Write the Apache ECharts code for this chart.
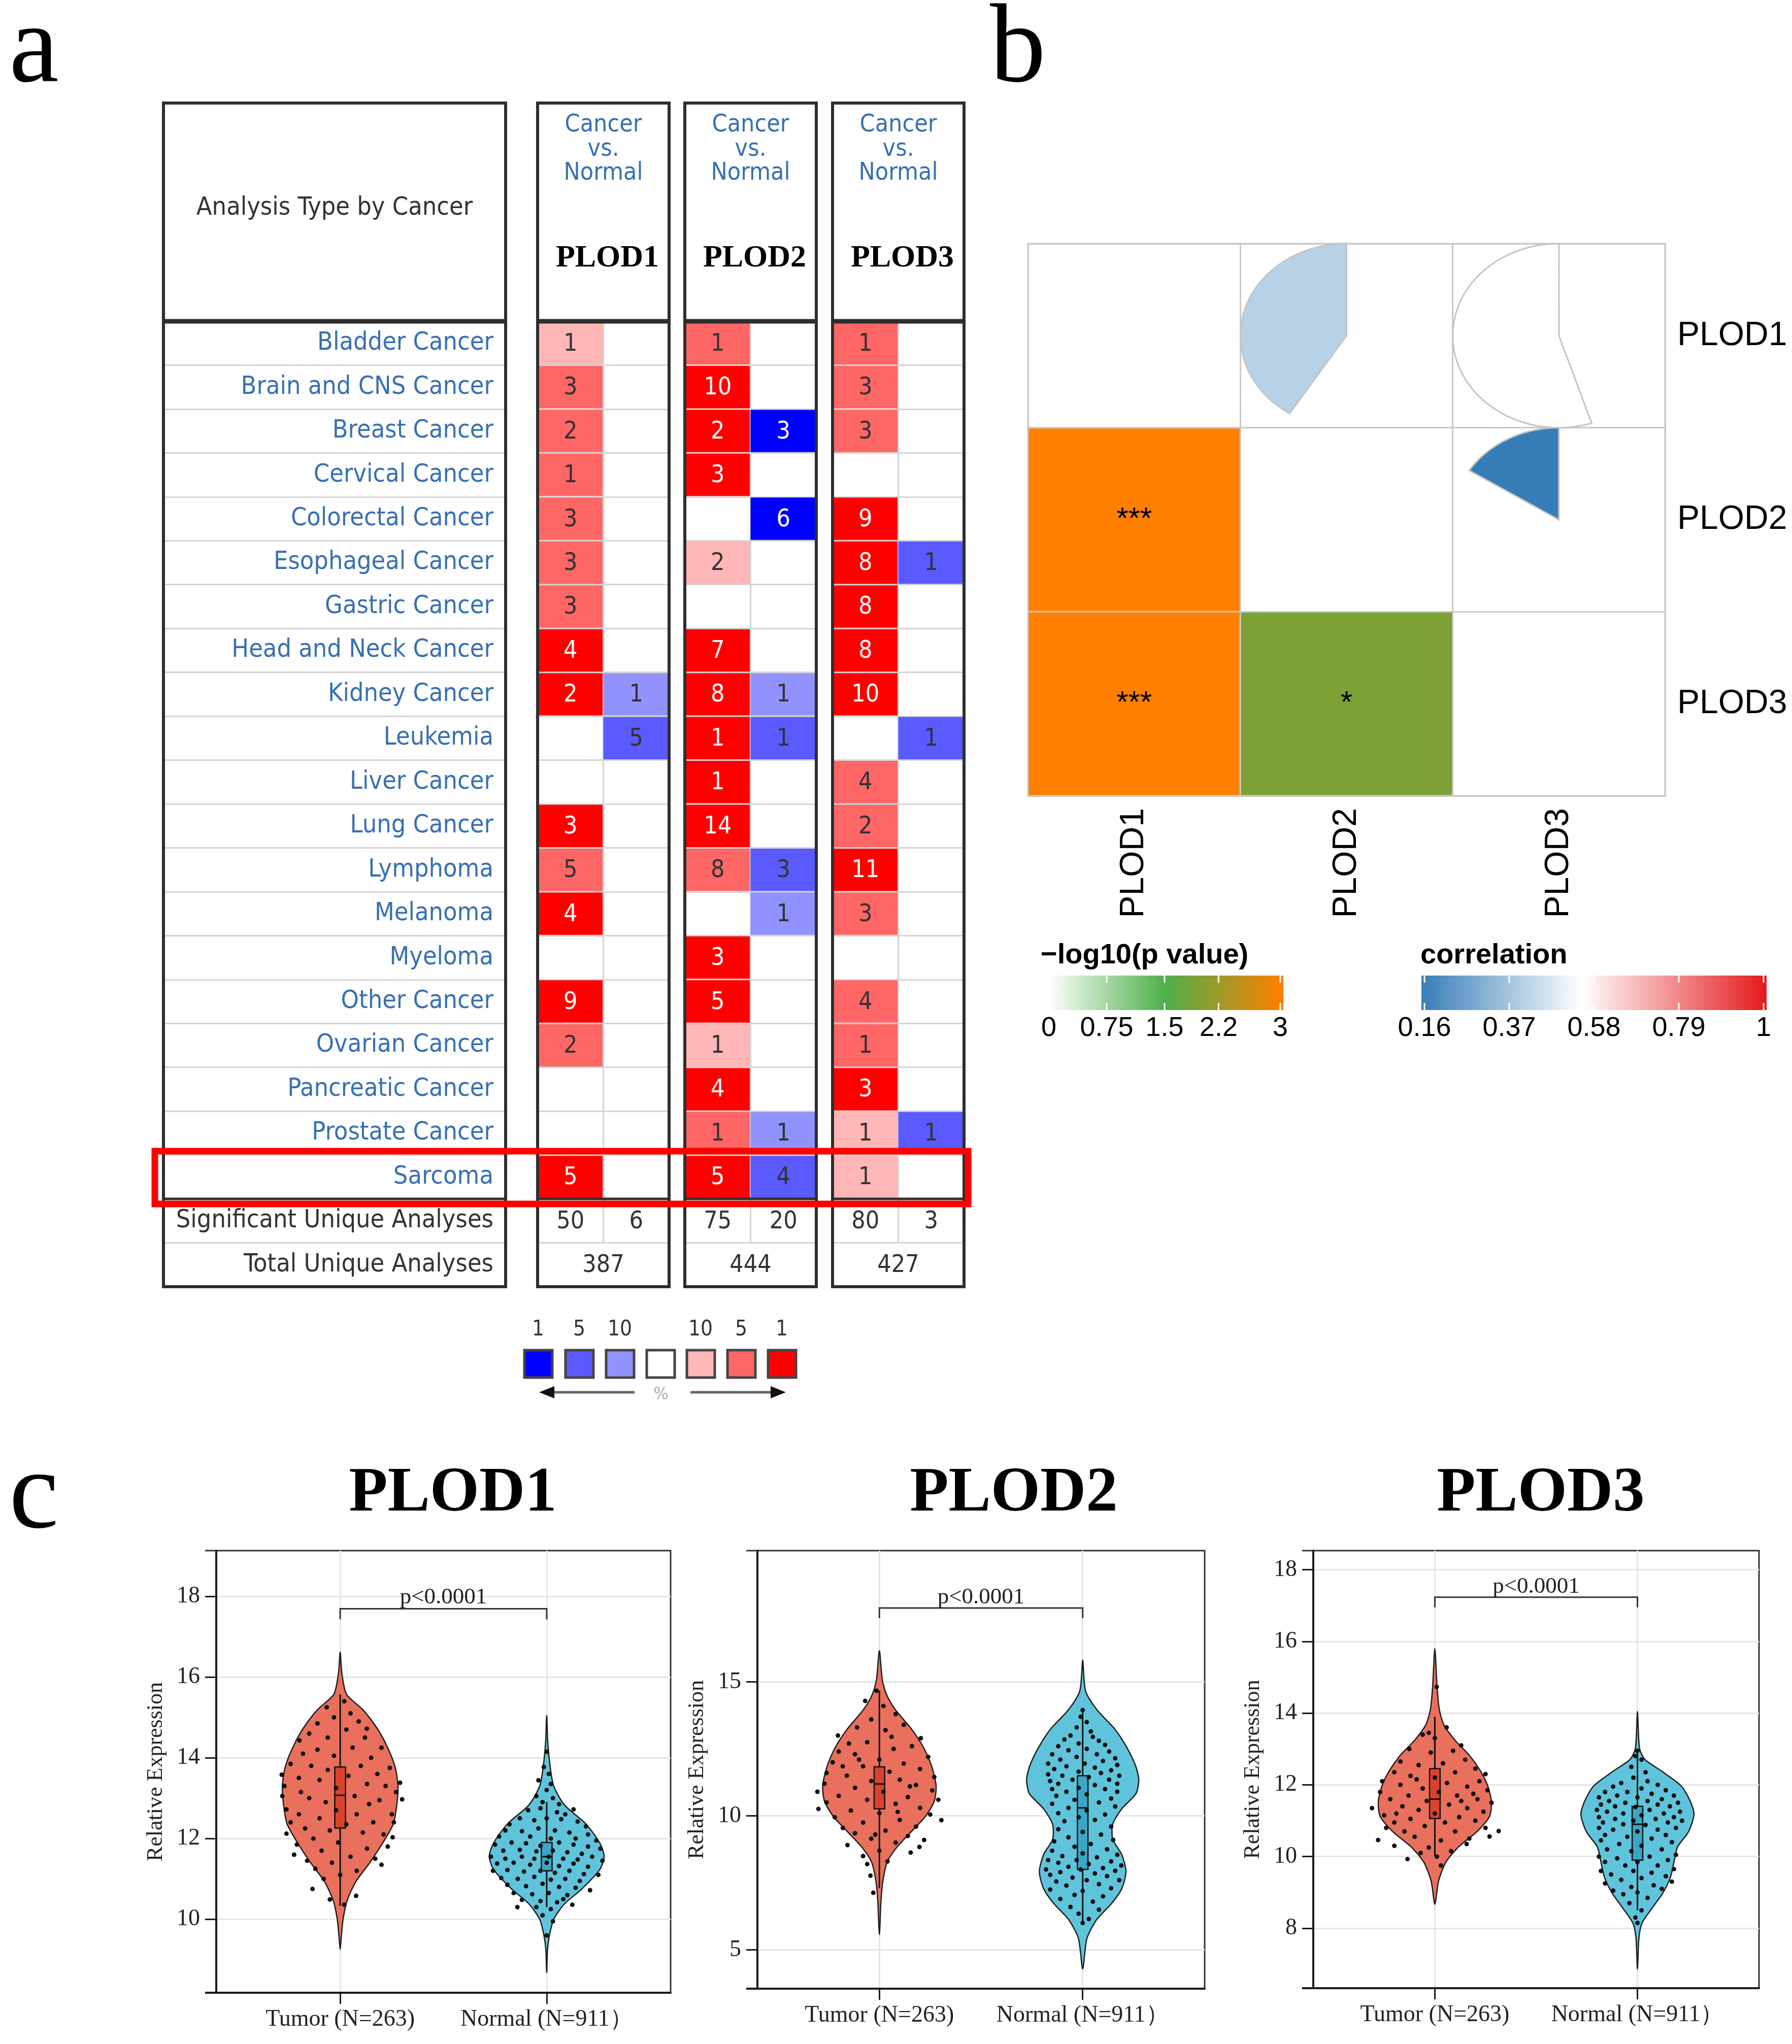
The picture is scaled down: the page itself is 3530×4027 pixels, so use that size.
<!DOCTYPE html>
<html>
<head>
<meta charset="utf-8">
<title>PLOD family expression</title>
<script src="https://cdn.jsdelivr.net/npm/echarts@6.0.0/dist/echarts.min.js"></script>
<style>
html, body { margin: 0; padding: 0; background: #fff; }
#main { width: 3530px; height: 4027px; }
</style>
</head>
<body>
<div id="main"></div>
<script>
// ---------- panel a : oncomine counts ----------
var cancerTypes = ['Bladder Cancer', 'Brain and CNS Cancer', 'Breast Cancer', 'Cervical Cancer', 'Colorectal Cancer',
    'Esophageal Cancer', 'Gastric Cancer', 'Head and Neck Cancer', 'Kidney Cancer', 'Leukemia', 'Liver Cancer',
    'Lung Cancer', 'Lymphoma', 'Melanoma', 'Myeloma', 'Other Cancer', 'Ovarian Cancer', 'Pancreatic Cancer',
    'Prostate Cancer', 'Sarcoma'];
var summaryRows = ['Significant Unique Analyses', 'Total Unique Analyses'];
var geneNames = ['PLOD1', 'PLOD2', 'PLOD3'];

var plod1UpCount = [1, 3, 2, 1, 3, 3, 3, 4, 2, 0, 0, 3, 5, 4, 0, 9, 2, 0, 0, 5];
var plod1UpRank = [10, 5, 5, 5, 5, 5, 5, 1, 1, 0, 0, 1, 5, 1, 0, 1, 5, 0, 0, 1];
var plod1DownCount = [0, 0, 0, 0, 0, 0, 0, 0, 1, 5, 0, 0, 0, 0, 0, 0, 0, 0, 0, 0];
var plod1DownRank = [0, 0, 0, 0, 0, 0, 0, 0, 10, 5, 0, 0, 0, 0, 0, 0, 0, 0, 0, 0];

var plod2UpCount = [1, 10, 2, 3, 0, 2, 0, 7, 8, 1, 1, 14, 8, 0, 3, 5, 1, 4, 1, 5];
var plod2UpRank = [5, 1, 1, 1, 0, 10, 0, 1, 1, 1, 1, 1, 5, 0, 1, 1, 10, 1, 5, 1];
var plod2DownCount = [0, 0, 3, 0, 6, 0, 0, 0, 1, 1, 0, 0, 3, 1, 0, 0, 0, 0, 1, 4];
var plod2DownRank = [0, 0, 1, 0, 1, 0, 0, 0, 10, 5, 0, 0, 5, 10, 0, 0, 0, 0, 10, 5];

var plod3UpCount = [1, 3, 3, 0, 9, 8, 8, 8, 10, 0, 4, 2, 11, 3, 0, 4, 1, 3, 1, 1];
var plod3UpRank = [5, 5, 5, 0, 1, 1, 1, 1, 1, 0, 5, 5, 1, 5, 0, 5, 5, 1, 10, 10];
var plod3DownCount = [0, 0, 0, 0, 0, 1, 0, 0, 0, 1, 0, 0, 0, 0, 0, 0, 0, 0, 1, 0];
var plod3DownRank = [0, 0, 0, 0, 0, 5, 0, 0, 0, 5, 0, 0, 0, 0, 0, 0, 0, 0, 5, 0];

var sigUp = [50, 75, 80];
var sigDown = [6, 20, 3];
var totalAnalyses = [387, 444, 427];
var legendRanks = ['1', '5', '10', '', '10', '5', '1'];

// ---------- panel b : correlation ----------
var corrGenes = ['PLOD1', 'PLOD2', 'PLOD3'];
var corrUpper = [[0, 1, 0.41], [0, 2, 0.55], [1, 2, 0.16]];      // row, col, r
var pLower = [[1, 0, 3], [2, 0, 3], [2, 1, 1.9]];                 // row, col, -log10(p)
var pStars = ['***', '***', '*'];
var pTicks = [0, 0.75, 1.5, 2.2, 3];
var corrTicks = [0.16, 0.37, 0.58, 0.79, 1];

// ---------- panel c : violins ----------
var groupLabels = ['Tumor (N=263)', 'Normal (N=911\uff09'];
var plod1Ticks = [10, 12, 14, 16, 18];
var plod2Ticks = [5, 10, 15];
var plod3Ticks = [8, 10, 12, 14, 16, 18];
var pLabel = 'p<0.0001';
var bracketY = [[17.69, 17.43, 17.97], [17.76, 17.38, 18.16], [17.23, 16.95, 17.52]];

// [y, half width]
var plod1TumorShape = [[9.25, 0], [9.6, 0.006], [10.0, 0.014], [10.47, 0.034], [10.94, 0.077], [11.42, 0.146], [11.89, 0.206],
    [12.36, 0.257], [12.83, 0.274], [13.3, 0.28], [13.77, 0.266], [14.25, 0.23], [14.72, 0.18], [15.19, 0.11], [15.57, 0.031],
    [16.1, 0.008], [16.62, 0]];
var plod1NormalShape = [[8.68, 0], [9.25, 0.004], [9.62, 0.014], [10.0, 0.034], [10.38, 0.086], [10.75, 0.17], [11.23, 0.257],
    [11.56, 0.278], [11.89, 0.257], [12.36, 0.19], [12.83, 0.086], [13.3, 0.034], [13.77, 0.017], [14.4, 0.005], [15.05, 0]];
var plod2TumorShape = [[5.57, 0], [6.85, 0.008], [7.56, 0.017], [8.27, 0.038], [8.84, 0.087], [9.41, 0.157], [9.98, 0.227],
    [10.55, 0.27], [11.12, 0.279], [11.83, 0.258], [12.54, 0.218], [13.25, 0.157], [13.96, 0.079], [14.53, 0.035],
    [15.1, 0.014], [16.17, 0]];
var plod2NormalShape = [[4.29, 0], [5.43, 0.021], [6.14, 0.07], [6.71, 0.14], [7.28, 0.192], [7.92, 0.213], [8.56, 0.192],
    [9.12, 0.148], [9.69, 0.148], [10.26, 0.192], [10.83, 0.262], [11.33, 0.276], [11.83, 0.262], [12.54, 0.218],
    [13.25, 0.157], [13.96, 0.07], [14.67, 0.014], [15.81, 0]];
var plod3TumorShape = [[8.67, 0], [9.31, 0.018], [9.84, 0.054], [10.27, 0.117], [10.69, 0.207], [11.12, 0.27], [11.54, 0.279],
    [11.97, 0.261], [12.39, 0.225], [12.82, 0.171], [13.24, 0.1], [13.67, 0.045], [14.1, 0.022], [14.73, 0.011], [15.8, 0]];
var plod3NormalShape = [[6.86, 0], [7.71, 0.007], [8.14, 0.022], [8.56, 0.072], [8.99, 0.126], [9.41, 0.162], [9.84, 0.18],
    [10.27, 0.198], [10.69, 0.252], [11.17, 0.279], [11.54, 0.261], [11.97, 0.216], [12.39, 0.117], [12.71, 0.036],
    [13.03, 0.01], [14.04, 0]];

// [low, q1, median, q3, high]
var plod1TumorBox = [10.33, 12.26, 13.07, 13.77, 15.57];
var plod1NormalBox = [10.3, 11.2, 11.55, 11.9, 12.9];
var plod2TumorBox = [7.3, 10.26, 11.19, 11.83, 14.67];
var plod2NormalBox = [6.0, 8.0, 10.3, 11.5, 13.9];
var plod3TumorBox = [10.0, 11.06, 11.6, 12.45, 13.9];
var plod3NormalBox = [8.5, 9.9, 10.9, 11.4, 12.9];

// [offset from group centre, expression]
var plod1TumorDots = [[-0.283, 13.58], [-0.27, 13.3], [-0.28, 13.05], [-0.26, 12.72], [-0.26, 12.12], [-0.24, 12.4], [-0.223, 11.6],
    [-0.21, 11.85], [-0.24, 13.85], [-0.197, 14.43], [-0.18, 14.1], [-0.2, 13.5], [-0.19, 13.15], [-0.2, 12.6], [-0.17, 12.25],
    [-0.16, 11.45], [-0.15, 14.6], [-0.14, 13.8], [-0.15, 13.0], [-0.13, 12.0], [-0.134, 10.75], [-0.12, 11.25], [-0.11, 14.85],
    [-0.11, 14.2], [-0.1, 13.45], [-0.1, 12.5], [-0.09, 11.7], [-0.08, 11.0], [-0.065, 15.25], [-0.06, 14.5], [-0.06, 13.7],
    [-0.07, 12.9], [-0.05, 12.2], [-0.05, 10.49], [-0.04, 11.4], [-0.03, 14.05], [-0.02, 13.25], [-0.02, 12.7], [-0.01, 11.9],
    [0.0, 11.1], [0.02, 10.36], [0.02, 15.4], [0.03, 14.7], [0.04, 13.55], [0.03, 12.35], [0.05, 11.55], [0.06, 14.25],
    [0.07, 13.05], [0.08, 12.6], [0.077, 10.58], [0.08, 11.2], [0.09, 14.9], [0.1, 13.8], [0.11, 12.15], [0.12, 14.5],
    [0.13, 13.35], [0.13, 11.75], [0.14, 12.85], [0.129, 14.72], [0.15, 14.0], [0.16, 12.4], [0.17, 11.5], [0.18, 13.6],
    [0.19, 12.95], [0.2, 14.25], [0.21, 12.1], [0.22, 13.3], [0.23, 11.8], [0.24, 13.75], [0.25, 12.6], [0.254, 12.03],
    [0.27, 13.15], [0.29, 13.38], [0.3, 12.97], [0.26, 12.4], [0.2, 11.35], [-0.03, 15.0], [0.05, 15.1]];
var plod1NormalDots = [[0, 14.15], [-0.014, 13.77], [0.01, 13.6], [-0.04, 13.44], [0.02, 13.35], [0.0, 13.2], [-0.05, 13.05],
    [0.03, 13.0], [-0.02, 12.9], [0.06, 12.85], [0.13, 12.72], [-0.09, 12.7], [-0.03, 12.75], [0.05, 12.65], [0.09, 12.6],
    [-0.13, 12.5], [-0.06, 12.45], [0.0, 12.5], [0.07, 12.48], [0.15, 12.42], [-0.18, 12.35], [0.19, 12.3], [-0.2, 12.2],
    [-0.12, 12.18], [-0.04, 12.25], [0.04, 12.2], [0.11, 12.15], [0.2, 12.1], [-0.23, 12.05], [-0.08, 12.05], [0.02, 12.0],
    [0.14, 12.0], [0.24, 11.95], [-0.25, 11.85], [-0.17, 11.9], [-0.1, 11.88], [-0.03, 11.82], [0.06, 11.9], [0.13, 11.85],
    [0.2, 11.8], [0.26, 11.75], [-0.21, 11.7], [-0.13, 11.72], [-0.05, 11.68], [0.03, 11.7], [0.1, 11.66], [0.17, 11.62],
    [-0.27, 11.55], [-0.2, 11.5], [-0.12, 11.55], [-0.06, 11.5], [0.01, 11.55], [0.08, 11.5], [0.15, 11.48], [0.22, 11.55],
    [0.27, 11.45], [-0.24, 11.38], [-0.16, 11.4], [-0.08, 11.35], [0.0, 11.4], [0.06, 11.32], [0.13, 11.38], [0.2, 11.3],
    [-0.26, 11.2], [-0.19, 11.22], [-0.11, 11.18], [-0.03, 11.2], [0.04, 11.15], [0.11, 11.2], [0.18, 11.12], [0.25, 11.1],
    [-0.22, 11.02], [-0.14, 11.0], [-0.06, 11.05], [0.02, 10.98], [0.09, 11.0], [0.16, 10.95], [-0.19, 10.85], [-0.1, 10.82],
    [-0.02, 10.88], [0.06, 10.8], [0.14, 10.78], [0.21, 10.72], [-0.16, 10.65], [-0.07, 10.62], [0.01, 10.65], [0.1, 10.6],
    [-0.12, 10.48], [-0.03, 10.45], [0.05, 10.42], [-0.142, 10.3], [0.124, 10.36], [-0.05, 10.3], [0.02, 10.25],
    [-0.02, 10.1], [0.03, 9.95], [0.0, 9.6], [0.08, 10.5]];
var plod2TumorDots = [[-0.014, 14.67], [-0.07, 14.29], [0.02, 14.1], [0.08, 13.8], [-0.04, 13.6], [0.12, 13.4], [-0.11, 13.3],
    [0.03, 13.2], [-0.204, 13.0], [0.204, 12.9], [-0.15, 12.7], [0.16, 12.6], [-0.06, 12.75], [0.07, 12.5], [-0.2, 12.4],
    [0.24, 12.2], [-0.12, 12.3], [0.0, 12.1], [-0.23, 12.0], [0.12, 11.95], [-0.08, 11.85], [0.2, 11.75], [-0.26, 11.6],
    [0.05, 11.65], [-0.16, 11.5], [0.27, 11.45], [0.1, 11.35], [-0.04, 11.3], [-0.27, 11.2], [0.18, 11.15], [-0.12, 11.05],
    [0.26, 10.95], [-0.305, 10.9], [0.02, 10.9], [-0.2, 10.75], [0.14, 10.7], [-0.06, 10.6], [0.29, 10.6], [-0.26, 10.5],
    [0.08, 10.45], [-0.3, 10.26], [0.2, 10.3], [-0.14, 10.2], [0.0, 10.1], [0.25, 10.05], [-0.22, 9.95], [0.305, 9.84],
    [0.1, 9.85], [-0.08, 9.75], [0.18, 9.6], [-0.18, 9.55], [0.03, 9.45], [-0.12, 9.35], [0.14, 9.25], [-0.04, 9.15],
    [0.22, 9.1], [0.08, 9.0], [-0.157, 8.91], [0.197, 8.84], [0.154, 8.63], [0.0, 8.7], [-0.08, 8.5], [0.04, 8.3],
    [-0.06, 8.2], [-0.044, 7.77], [-0.03, 7.13], [0.06, 12.95], [-0.1, 12.1], [0.15, 11.1], [-0.18, 11.85], [0.09, 10.15],
    [-0.02, 9.3]];
var plod2NormalDots = [[0.0, 13.95], [-0.01, 13.7], [0.02, 13.5], [-0.03, 13.3], [0.04, 13.15], [-0.06, 13.0], [0.05, 12.95],
    [-0.09, 12.85], [0.08, 12.8], [-0.02, 12.7], [0.11, 12.65], [-0.12, 12.6], [0.02, 12.5], [-0.07, 12.45], [0.13, 12.4],
    [-0.15, 12.3], [0.07, 12.3], [-0.03, 12.2], [0.16, 12.15], [-0.11, 12.1], [0.1, 12.05], [-0.17, 11.95], [0.01, 11.95],
    [0.17, 11.9], [-0.08, 11.85], [0.06, 11.8], [-0.14, 11.75], [0.14, 11.7], [-0.02, 11.65], [-0.17, 11.55], [0.09, 11.6],
    [0.18, 11.5], [-0.1, 11.5], [0.03, 11.45], [-0.05, 11.35], [0.13, 11.35], [-0.16, 11.3], [0.17, 11.2], [-0.12, 11.2],
    [0.06, 11.15], [-0.02, 11.05], [-0.15, 11.0], [0.11, 11.0], [0.17, 10.9], [-0.08, 10.9], [0.02, 10.8], [-0.13, 10.75],
    [0.14, 10.65], [-0.04, 10.6], [0.08, 10.5], [-0.15, 10.45], [0.16, 10.35], [-0.07, 10.3], [0.02, 10.2], [-0.12, 10.1],
    [0.11, 10.05], [-0.02, 9.95], [0.06, 9.85], [-0.09, 9.8], [0.14, 9.6], [-0.12, 9.5], [0.0, 9.4], [0.09, 9.3],
    [-0.07, 9.2], [0.15, 9.1], [-0.14, 9.05], [0.04, 8.95], [-0.04, 8.85], [0.12, 8.75], [-0.15, 8.7], [0.0, 8.6],
    [0.17, 8.55], [-0.1, 8.5], [0.07, 8.45], [-0.17, 8.35], [-0.03, 8.35], [0.14, 8.3], [-0.12, 8.25], [0.03, 8.2],
    [0.19, 8.15], [-0.07, 8.1], [0.1, 8.05], [-0.18, 8.0], [-0.01, 8.0], [0.16, 7.95], [-0.11, 7.9], [0.06, 7.85],
    [-0.16, 7.8], [0.12, 7.75], [-0.05, 7.7], [0.02, 7.6], [0.18, 7.6], [-0.13, 7.55], [0.08, 7.45], [-0.08, 7.4],
    [0.14, 7.3], [-0.16, 7.25], [0.0, 7.2], [-0.04, 7.05], [0.1, 7.0], [-0.11, 6.9], [0.05, 6.8], [-0.06, 6.6],
    [0.08, 6.5], [-0.02, 6.35], [0.03, 6.15], [0.0, 6.0]];
var plod3TumorDots = [[0.009, 14.73], [0.058, 13.6], [-0.06, 13.4], [-0.03, 13.45], [0.0, 13.3], [0.13, 13.1], [-0.126, 13.0],
    [0.09, 12.95], [-0.02, 12.9], [0.15, 12.7], [-0.17, 12.65], [0.04, 12.6], [-0.08, 12.55], [0.2, 12.45], [0.25, 12.3],
    [-0.2, 12.35], [0.1, 12.35], [-0.12, 12.25], [0.0, 12.2], [-0.26, 12.1], [0.22, 12.1], [0.06, 12.05], [-0.17, 12.0],
    [0.16, 11.95], [-0.06, 11.9], [0.26, 11.85], [-0.27, 11.8], [0.02, 11.8], [0.11, 11.7], [-0.13, 11.7], [-0.22, 11.6],
    [0.21, 11.6], [-0.04, 11.55], [0.28, 11.5], [0.07, 11.45], [-0.31, 11.35], [-0.16, 11.4], [0.16, 11.35], [-0.08, 11.3],
    [0.24, 11.25], [0.0, 11.2], [-0.25, 11.15], [0.12, 11.1], [-0.12, 11.05], [0.2, 11.0], [-0.2, 10.95], [0.05, 10.95],
    [-0.05, 10.85], [0.25, 10.8], [-0.24, 10.8], [0.315, 10.71], [0.1, 10.7], [-0.15, 10.7], [0.27, 10.56], [-0.1, 10.55],
    [0.17, 10.5], [-0.28, 10.46], [0.03, 10.45], [0.157, 10.35], [-0.2, 10.3], [-0.03, 10.25], [0.08, 10.15],
    [-0.135, 9.93], [0.01, 10.0], [0.03, 9.75], [-0.07, 10.1], [0.19, 11.75], [-0.09, 12.15], [0.13, 11.55], [-0.19, 11.2]];
var plod3NormalDots = [[0.0, 12.95], [-0.01, 12.8], [0.02, 12.7], [-0.03, 12.5], [0.04, 12.35], [-0.02, 12.2], [0.05, 12.1],
    [-0.08, 12.05], [0.1, 12.0], [-0.12, 11.95], [0.02, 11.9], [0.14, 11.85], [-0.16, 11.8], [-0.05, 11.8], [0.07, 11.75],
    [0.18, 11.7], [-0.19, 11.65], [-0.1, 11.7], [0.0, 11.65], [0.12, 11.6], [-0.14, 11.55], [0.05, 11.55], [0.2, 11.5],
    [-0.06, 11.5], [-0.18, 11.45], [0.1, 11.45], [0.16, 11.4], [-0.11, 11.4], [-0.01, 11.38], [-0.2, 11.3], [0.06, 11.3],
    [0.21, 11.25], [-0.15, 11.25], [0.13, 11.2], [-0.07, 11.2], [0.02, 11.15], [-0.19, 11.1], [0.18, 11.1], [-0.11, 11.05],
    [0.09, 11.05], [-0.02, 11.0], [0.22, 11.0], [-0.17, 10.95], [0.15, 10.95], [-0.07, 10.9], [0.04, 10.88], [-0.19, 10.8],
    [0.19, 10.8], [0.1, 10.75], [-0.12, 10.75], [0.0, 10.7], [-0.16, 10.6], [0.14, 10.6], [-0.05, 10.55], [0.07, 10.5],
    [-0.18, 10.45], [0.17, 10.4], [-0.09, 10.35], [0.02, 10.3], [-0.15, 10.2], [0.12, 10.2], [-0.03, 10.15], [0.19, 10.05],
    [-0.19, 10.0], [0.06, 10.0], [-0.1, 9.95], [0.15, 9.9], [-0.16, 9.85], [0.0, 9.85], [-0.06, 9.75], [0.1, 9.75],
    [0.18, 9.65], [-0.18, 9.6], [-0.02, 9.6], [0.07, 9.55], [-0.13, 9.5], [0.14, 9.45], [0.02, 9.4], [-0.08, 9.35],
    [0.17, 9.3], [-0.16, 9.25], [0.08, 9.2], [-0.03, 9.15], [0.12, 9.1], [-0.12, 9.05], [0.0, 9.0], [-0.07, 8.95],
    [0.05, 8.85], [-0.04, 8.7], [0.02, 8.5], [-0.01, 8.3], [0.0, 8.15]];

// ---------- style ----------
var tableFont = "'DejaVu Sans Condensed', 'DejaVu Sans', sans-serif";
var serifFont = "'Liberation Serif', 'Times New Roman', serif";
var arialFont = "'Liberation Sans', Arial, sans-serif";
var narrowFont = "'Liberation Sans Narrow', 'Liberation Sans', Arial, sans-serif";
var linkBlue = '#3870b2';
var upColors = {1: '#ff0000', 5: '#ff6666', 10: '#ffb6b6'};
var downColors = {1: '#0000ff', 5: '#5a5aff', 10: '#9292ff'};
var legendColors = ['#0000ff', '#5a5aff', '#9292ff', '#ffffff', '#ffb6b6', '#ff6666', '#ff0000'];
var violinColors = ['#e9705c', '#5fc4db'];
var boxColors = ['#d9432e', '#3aa6c4'];

var tableTop = 633, tableHeight = 1902, boxTop = 203, boxBottom = 2535;
var labelLeft = 322, labelWidth = 674;
var geneLeft = [1059, 1349, 1640], geneWidth = 259;

function hexRgb(h) {
    return [parseInt(h.substr(1, 2), 16), parseInt(h.substr(3, 2), 16), parseInt(h.substr(5, 2), 16)];
}
function mix(a, b, t) {
    t = Math.max(0, Math.min(1, t));
    var A = hexRgb(a), B = hexRgb(b);
    return 'rgb(' + [0, 1, 2].map(function (k) { return Math.round(A[k] + (B[k] - A[k]) * t); }).join(',') + ')';
}
function pColor(v) {
    return v <= 1.5 ? mix('#ffffff', '#4daf4a', v / 1.5) : mix('#4daf4a', '#ff7f00', (v - 1.5) / 1.5);
}
function rColor(v) {
    return v <= 0.55 ? mix('#377eb8', '#ffffff', (v - 0.16) / 0.39) : mix('#ffffff', '#e41a1c', (v - 0.55) / 0.45);
}
function txt(x, y, text, font, fill, align, valign) {
    return {
        type: 'text', x: x, y: y, z: 100,
        style: {
            text: text, font: font, fill: fill,
            align: align || 'center', verticalAlign: valign || 'middle',
            textAlign: align || 'center', textVerticalAlign: valign || 'middle'
        }
    };
}
function line(x1, y1, x2, y2, color, w) {
    return {type: 'line', z: 100, shape: {x1: x1, y1: y1, x2: x2, y2: y2}, style: {stroke: color, lineWidth: w}};
}
function frame(x, y, w, h, color, lw) {
    return {type: 'rect', z: 100, shape: {x: x, y: y, width: w, height: h}, style: {fill: 'none', stroke: color, lineWidth: lw}};
}

// ---------- table series ----------
var tableRowLabels = cancerTypes.concat(summaryRows);

function tableData(upC, upR, dnC, dnR, g) {
    var d = [];
    for (var i = 0; i < cancerTypes.length; i++) {
        d.push([0, i, upC[i], upR[i], 0]);
        d.push([1, i, dnC[i], dnR[i], 1]);
    }
    d.push([0, 20, sigUp[g], 0, 2]);
    d.push([1, 20, sigDown[g], 0, 2]);
    d.push([0, 21, totalAnalyses[g], 0, 3]);
    return d;
}

function renderTableCell(params, api) {
    var col = api.value(0), row = api.value(1), count = api.value(2), rank = api.value(3), kind = api.value(4);
    var c = api.coord([col, row]);
    var s = api.size([1, 1]);
    var x0 = c[0] - s[0] / 2, y0 = c[1] - s[1] / 2;
    var kids = [];
    if (kind < 2 && count > 0) {
        kids.push({type: 'rect', shape: {x: x0, y: y0 + 1.5, width: s[0], height: s[1] - 3},
            style: {fill: kind === 0 ? upColors[rank] : downColors[rank]}});
    }
    if (col === 0 && kind < 3) {
        kids.push({type: 'line', shape: {x1: x0 + s[0], y1: y0, x2: x0 + s[0], y2: y0 + s[1]},
            style: {stroke: '#d4d4d4', lineWidth: 3}});
    }
    if (count > 0) {
        var tx = kind === 3 ? x0 + s[0] : c[0];
        var tc = (kind < 2 && rank === 1) ? '#ffffff' : '#333333';
        kids.push({type: 'text', style: {text: String(count), x: tx, y: c[1] + 2, fill: tc,
            font: '48px ' + tableFont, align: 'center', verticalAlign: 'middle',
            textAlign: 'center', textVerticalAlign: 'middle'}});
    }
    return {type: 'group', children: kids};
}

// ---------- correlation series ----------
function renderCorr(params, api) {
    var col = api.value(0), row = api.value(1), kind = api.value(2), v = api.value(3);
    var c = api.coord([col, row]);
    var s = api.size([1, 1]);
    if (kind === 0) {
        return {type: 'group', children: [
            {type: 'rect', shape: {x: c[0] - s[0] / 2 + 1.5, y: c[1] - s[1] / 2 + 1.5, width: s[0] - 3, height: s[1] - 3},
                style: {fill: pColor(v)}},
            {type: 'text', style: {text: pStars[params.dataIndex], x: c[0], y: c[1], fill: '#000',
                font: '60px ' + arialFont, align: 'center', verticalAlign: 'middle',
                textAlign: 'center', textVerticalAlign: 'middle'}}
        ]};
    }
    var rx = s[0] / 2, ry = s[1] / 2;
    var pts = [[c[0], c[1]]];
    var sweep = v * 2 * Math.PI;
    for (var k = 0; k <= 90; k++) {
        var a = Math.PI / 2 + sweep * k / 90;
        pts.push([c[0] + rx * Math.cos(a), c[1] - ry * Math.sin(a)]);
    }
    return {type: 'polygon', shape: {points: pts}, style: {fill: rColor(v), stroke: '#c4c4c4', lineWidth: 3}};
}

var corrData = [];
pLower.forEach(function (p) { corrData.push([p[1], p[0], 0, p[2]]); });
corrUpper.forEach(function (r) { corrData.push([r[1], r[0], 1, r[2]]); });

// ---------- violin helpers ----------
var violinShapes = [[plod1TumorShape, plod1NormalShape], [plod2TumorShape, plod2NormalShape], [plod3TumorShape, plod3NormalShape]];
var violinBoxes = [[plod1TumorBox, plod1NormalBox], [plod2TumorBox, plod2NormalBox], [plod3TumorBox, plod3NormalBox]];
var violinDots = [[plod1TumorDots, plod1NormalDots], [plod2TumorDots, plod2NormalDots], [plod3TumorDots, plod3NormalDots]];
var violinTicks = [plod1Ticks, plod2Ticks, plod3Ticks];
var violinYRange = [[8.18, 19.13], [3.55, 19.9], [6.33, 18.53]];
var violinGrids = [
    {left: 426, top: 3055, width: 895, height: 871},
    {left: 1492, top: 3055, width: 881, height: 863},
    {left: 2587, top: 3055, width: 878, height: 862}
];
var titleX = [892, 1997, 3035];

function violinRenderer(shapes) {
    return function (params, api) {
        var prof = shapes[params.dataIndex];
        var cx = api.value(0);
        var pts = [];
        var n = prof.length;
        for (var i = 0; i < n; i++) pts.push(api.coord([cx + prof[i][1], prof[i][0]]));
        for (var j = n - 1; j >= 0; j--) {
            if (prof[j][1] === 0) continue;
            pts.push(api.coord([cx - prof[j][1], prof[j][0]]));
        }
        return {type: 'polygon', shape: {points: pts, smooth: 0.25},
            style: {fill: violinColors[params.dataIndex], stroke: '#1e1e1e', lineWidth: 2.5}};
    };
}

function renderBox(params, api) {
    var cx = api.value(0);
    var lo = api.coord([cx, api.value(1)]), hi = api.coord([cx, api.value(5)]);
    var q1 = api.coord([cx - 0.026, api.value(2)]), q3 = api.coord([cx + 0.026, api.value(4)]);
    var med = api.value(3);
    var mL = api.coord([cx - 0.026, med]), mR = api.coord([cx + 0.026, med]);
    return {type: 'group', children: [
        {type: 'line', shape: {x1: lo[0], y1: lo[1], x2: hi[0], y2: hi[1]}, style: {stroke: '#111', lineWidth: 3}},
        {type: 'rect', shape: {x: q1[0], y: q3[1], width: q3[0] - q1[0], height: q1[1] - q3[1]},
            style: {fill: boxColors[params.dataIndex], stroke: '#111', lineWidth: 2.5}},
        {type: 'line', shape: {x1: mL[0], y1: mL[1], x2: mR[0], y2: mR[1]}, style: {stroke: '#111', lineWidth: 3}}
    ]};
}

function renderBracket(params, api) {
    var a = api.coord([api.value(0), api.value(3)]);
    var b = api.coord([api.value(1), api.value(2)]);
    var t = api.coord([(api.value(0) + api.value(1)) / 2, api.value(4)]);
    return {type: 'group', children: [
        {type: 'polyline', shape: {points: [[a[0], a[1]], [a[0], b[1]], [b[0], b[1]], [b[0], a[1]]]},
            style: {stroke: '#333', lineWidth: 3, fill: 'none'}},
        {type: 'text', style: {text: pLabel, x: t[0], y: t[1], fill: '#222', font: '45px ' + serifFont,
            align: 'center', verticalAlign: 'middle', textAlign: 'center', textVerticalAlign: 'middle'}}
    ]};
}

// ---------- assemble ----------
var grids = [], xAxes = [], yAxes = [], series = [];

grids.push({left: labelLeft, top: tableTop, width: labelWidth, height: tableHeight});
xAxes.push({gridIndex: 0, type: 'value', show: false, min: 0, max: 1});
yAxes.push({
    gridIndex: 0, type: 'category', data: tableRowLabels, inverse: true, position: 'right',
    axisLine: {show: false}, axisTick: {show: false},
    axisLabel: {inside: true, margin: 24, interval: 0, fontSize: 50, fontFamily: tableFont,
        color: function (v, i) { return i < cancerTypes.length ? linkBlue : '#333'; }},
    splitLine: {show: true, interval: 0, lineStyle: {color: '#d4d4d4', width: 3}}
});

var geneTables = [
    tableData(plod1UpCount, plod1UpRank, plod1DownCount, plod1DownRank, 0),
    tableData(plod2UpCount, plod2UpRank, plod2DownCount, plod2DownRank, 1),
    tableData(plod3UpCount, plod3UpRank, plod3DownCount, plod3DownRank, 2)
];
for (var g = 0; g < 3; g++) {
    grids.push({left: geneLeft[g], top: tableTop, width: geneWidth, height: tableHeight});
    xAxes.push({gridIndex: g + 1, type: 'category', data: ['up', 'down'], show: false});
    yAxes.push({
        gridIndex: g + 1, type: 'category', data: tableRowLabels, inverse: true,
        axisLine: {show: false}, axisTick: {show: false}, axisLabel: {show: false},
        splitLine: {show: true, interval: 0, lineStyle: {color: '#d4d4d4', width: 3}}
    });
    series.push({type: 'custom', xAxisIndex: g + 1, yAxisIndex: g + 1, renderItem: renderTableCell,
        data: geneTables[g], silent: true});
}

// correlation grid (index 4)
grids.push({left: 2025, top: 480, width: 1255, height: 1088, show: true, borderColor: '#c8c8c8', borderWidth: 3});
xAxes.push({
    gridIndex: 4, type: 'category', data: corrGenes, position: 'bottom',
    axisLine: {show: false}, axisTick: {show: false},
    axisLabel: {rotate: 90, margin: 24, interval: 0, fontSize: 66, fontFamily: arialFont, color: '#000'},
    splitLine: {show: true, interval: 0, lineStyle: {color: '#c8c8c8', width: 3}}
});
yAxes.push({
    gridIndex: 4, type: 'category', data: corrGenes, inverse: true, position: 'right',
    axisLine: {show: false}, axisTick: {show: false},
    axisLabel: {margin: 24, interval: 0, fontSize: 66, fontFamily: arialFont, color: '#000'},
    splitLine: {show: true, interval: 0, lineStyle: {color: '#c8c8c8', width: 3}}
});
series.push({type: 'custom', xAxisIndex: 4, yAxisIndex: 4, renderItem: renderCorr, data: corrData, silent: true, z: 3});

// violin grids (5..7)
for (var p = 0; p < 3; p++) {
    var gi = 5 + p;
    var gr = violinGrids[p];
    grids.push({left: gr.left, top: gr.top, width: gr.width, height: gr.height,
        show: true, borderColor: '#333', borderWidth: 3});
    xAxes.push({
        gridIndex: gi, type: 'value', min: 0.4, max: 2.6,
        axisLine: {onZero: false, lineStyle: {color: '#1a1a1a', width: 4}},
        axisTick: {customValues: [1, 2], length: 22, lineStyle: {color: '#1a1a1a', width: 3}},
        axisLabel: {customValues: [1, 2], margin: 30, fontSize: 46, fontFamily: serifFont, color: '#222',
            formatter: function (v) { return groupLabels[Math.round(v) - 1]; }},
        splitLine: {show: true, lineStyle: {color: '#e6e6e6', width: 3}}
    });
    yAxes.push({
        gridIndex: gi, type: 'value', min: violinYRange[p][0], max: violinYRange[p][1],
        name: 'Relative Expression', nameLocation: 'middle', nameGap: 97, nameRotate: 90,
        nameTextStyle: {fontFamily: serifFont, fontSize: 44, color: '#222'},
        axisLine: {show: true, onZero: false, lineStyle: {color: '#1a1a1a', width: 4}},
        axisTick: {show: true, customValues: violinTicks[p], length: 22, lineStyle: {color: '#1a1a1a', width: 3}},
        axisLabel: {customValues: violinTicks[p], margin: 32, fontSize: 46, fontFamily: serifFont, color: '#222'},
        splitLine: {show: true, lineStyle: {color: '#e6e6e6', width: 3}}
    });
    series.push({type: 'custom', xAxisIndex: gi, yAxisIndex: gi, z: 2, silent: true,
        renderItem: violinRenderer(violinShapes[p]),
        data: [[1, violinBoxes[p][0][2]], [2, violinBoxes[p][1][2]]]});
    series.push({type: 'custom', xAxisIndex: gi, yAxisIndex: gi, z: 3, silent: true,
        renderItem: renderBox,
        data: [[1].concat(violinBoxes[p][0]), [2].concat(violinBoxes[p][1])]});
    var pts = [];
    violinDots[p][0].forEach(function (d) { pts.push([1 + d[0], d[1]]); });
    violinDots[p][1].forEach(function (d) { pts.push([2 + d[0], d[1]]); });
    series.push({type: 'scatter', xAxisIndex: gi, yAxisIndex: gi, z: 4, silent: true,
        symbolSize: 9, itemStyle: {color: '#111', opacity: 1}, data: pts});
    series.push({type: 'custom', xAxisIndex: gi, yAxisIndex: gi, z: 5, silent: true,
        renderItem: renderBracket, data: [[1, 2].concat(bracketY[p])]});
}

// ---------- decoration (frames, headers, legends) ----------
var els = [];
els.push(txt(18, 102, 'a', '220px ' + serifFont, '#000', 'left'));
els.push(txt(1950, 102, 'b', '220px ' + serifFont, '#000', 'left'));
els.push(txt(18, 2951, 'c', '220px ' + serifFont, '#000', 'left'));

// table frames
var sarcomaBottom = tableTop + tableHeight * 20 / 22;
els.push(frame(labelLeft, boxTop, labelWidth, boxBottom - boxTop, '#2e2e2e', 6));
els.push(line(labelLeft, tableTop, labelLeft + labelWidth, tableTop, '#2e2e2e', 9));
els.push(line(labelLeft, sarcomaBottom, labelLeft + labelWidth, sarcomaBottom, '#2e2e2e', 5));
els.push(txt(labelLeft + labelWidth / 2, 410, 'Analysis Type by Cancer', '50px ' + tableFont, '#333'));
for (var k = 0; k < 3; k++) {
    var bx = geneLeft[k], cxh = bx + geneWidth / 2;
    els.push(frame(bx, boxTop, geneWidth, boxBottom - boxTop, '#2e2e2e', 6));
    els.push(line(bx, tableTop, bx + geneWidth, tableTop, '#2e2e2e', 9));
    els.push(line(bx, sarcomaBottom, bx + geneWidth, sarcomaBottom, '#2e2e2e', 5));
    els.push(txt(cxh, 247, 'Cancer', '48px ' + tableFont, linkBlue));
    els.push(txt(cxh, 295, 'vs.', '48px ' + tableFont, linkBlue));
    els.push(txt(cxh, 342, 'Normal', '48px ' + tableFont, linkBlue));
    els.push(txt(cxh + 8, 509, geneNames[k], 'bold 62px ' + serifFont, '#000'));
}
// highlight of Sarcoma
els.push(frame(305, 2268, 1602, 104, '#ff0000', 13));

// rank legend
var legLeft = [1033, 1114, 1194, 1274, 1353, 1433, 1513];
for (var q = 0; q < legendColors.length; q++) {
    els.push({type: 'rect', z: 100, shape: {x: legLeft[q], y: 2660, width: 55, height: 54},
        style: {fill: legendColors[q], stroke: '#444', lineWidth: 5}});
    if (legendRanks[q]) els.push(txt(legLeft[q] + 27, 2620, legendRanks[q], '42px ' + tableFont, '#333'));
}
els.push(line(1085, 2743, 1250, 2743, '#666', 5));
els.push({type: 'polygon', z: 100, shape: {points: [[1062, 2743], [1092, 2731], [1092, 2755]]}, style: {fill: '#111'}});
els.push(line(1360, 2743, 1525, 2743, '#666', 5));
els.push({type: 'polygon', z: 100, shape: {points: [[1548, 2743], [1518, 2731], [1518, 2755]]}, style: {fill: '#111'}});
els.push(txt(1302, 2748, '%', '34px ' + tableFont, '#aaa'));

// violin frame extensions past the y axis
violinGrids.forEach(function (gr) {
    els.push(line(gr.left - 22, gr.top, gr.left, gr.top, '#333', 3));
    els.push(line(gr.left - 22, gr.top + gr.height, gr.left, gr.top + gr.height, '#1a1a1a', 4));
});

// colour bars of panel b
els.push(txt(2050, 1883, '\u2212log10(p value)', 'bold 56px ' + narrowFont, '#000', 'left'));
els.push(txt(2798, 1883, 'correlation', 'bold 56px ' + narrowFont, '#000', 'left'));
els.push({type: 'rect', z: 100, shape: {x: 2064, y: 1922, width: 464, height: 68},
    style: {fill: new echarts.graphic.LinearGradient(0, 0, 1, 0, [
        {offset: 0, color: '#ffffff'}, {offset: 0.5, color: '#4daf4a'}, {offset: 1, color: '#ff7f00'}])}});
els.push({type: 'rect', z: 100, shape: {x: 2800, y: 1922, width: 680, height: 68},
    style: {fill: new echarts.graphic.LinearGradient(0, 0, 1, 0, [
        {offset: 0, color: '#377eb8'}, {offset: 0.464, color: '#ffffff'}, {offset: 1, color: '#e41a1c'}])}});
pTicks.forEach(function (v) {
    var x = 2066 + v / 3 * 456;
    els.push(line(x, 1922, x, 1936, '#fff', 3));
    els.push(line(x, 1976, x, 1990, '#fff', 3));
    els.push(txt(x, 2026, String(v), '54px ' + narrowFont, '#000'));
});
corrTicks.forEach(function (v) {
    var x = 2806 + (v - 0.16) / 0.84 * 668;
    els.push(line(x, 1922, x, 1936, '#fff', 3));
    els.push(line(x, 1976, x, 1990, '#fff', 3));
    els.push(txt(x, 2026, String(v), '54px ' + narrowFont, '#000'));
});

// violin titles
for (var t = 0; t < 3; t++) {
    els.push(txt(titleX[t], 2944, geneNames[t], 'bold 125px ' + serifFont, '#000'));
}

var option = {
    animation: false,
    backgroundColor: '#ffffff',
    grid: grids,
    xAxis: xAxes,
    yAxis: yAxes,
    series: series,
    graphic: {elements: els}
};

var chart = echarts.init(document.getElementById('main'));
chart.setOption(option);
</script>
</body>
</html>
